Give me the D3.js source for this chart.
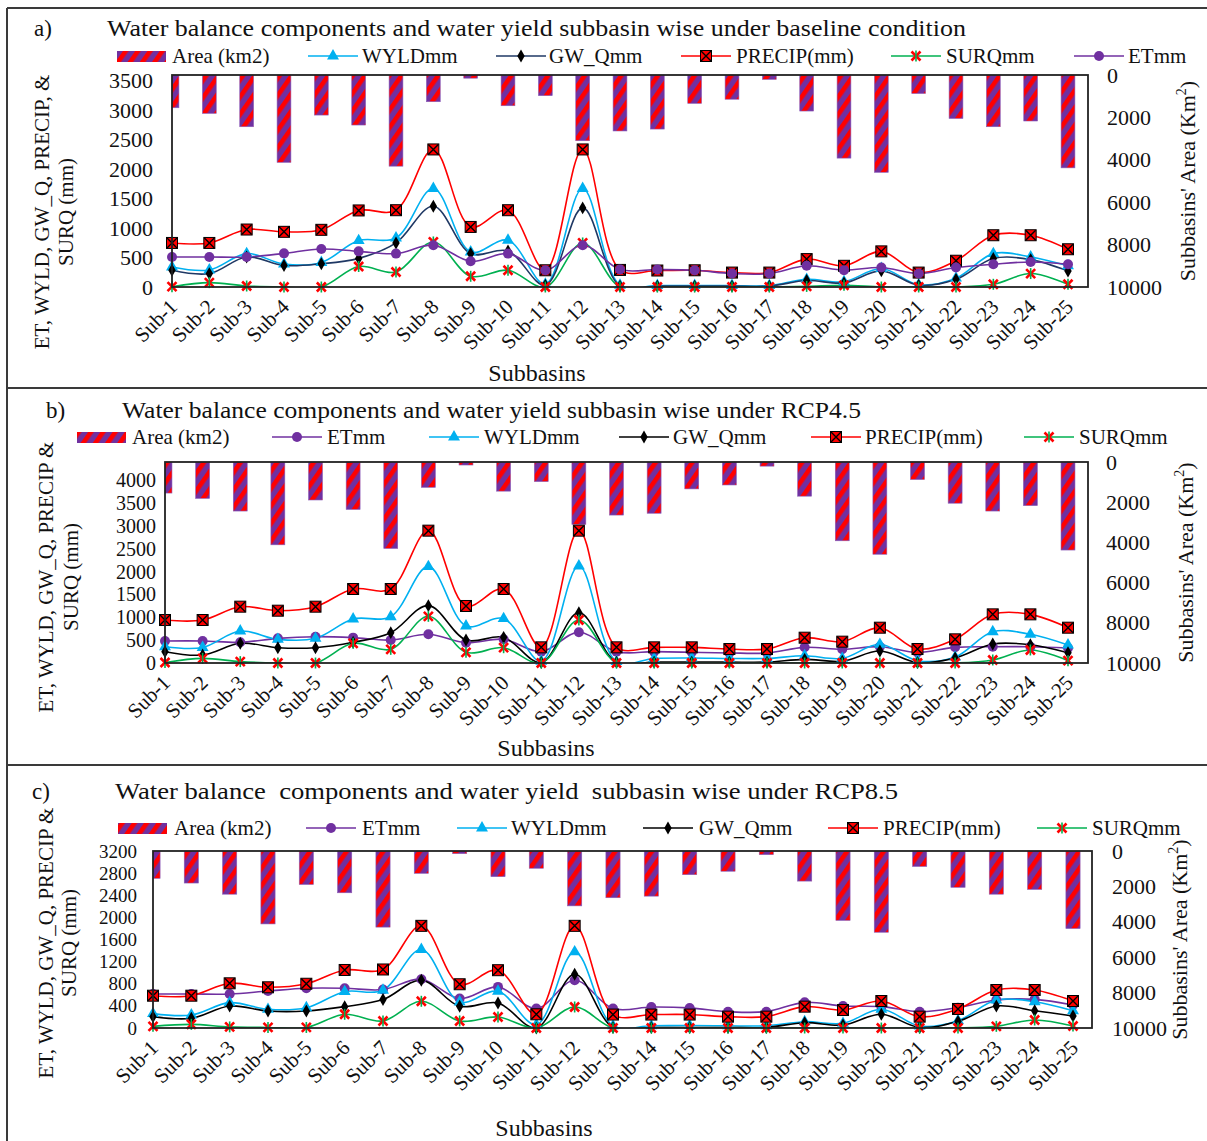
<!DOCTYPE html>
<html>
<head>
<meta charset="utf-8">
<script src="https://cdn.jsdelivr.net/npm/d3@7"></script>
<style>
  body { margin: 0; background: #fff; }
  svg { display: block; font-family: "Liberation Serif", "Times New Roman", serif; }
</style>
</head>
<body>
<svg id="chart" width="1207" height="1141"></svg>
<script>
// ---- data -------------------------------------------------------------
const subbasins = ["Sub-1","Sub-2","Sub-3","Sub-4","Sub-5","Sub-6","Sub-7","Sub-8","Sub-9","Sub-10",
  "Sub-11","Sub-12","Sub-13","Sub-14","Sub-15","Sub-16","Sub-17","Sub-18","Sub-19","Sub-20",
  "Sub-21","Sub-22","Sub-23","Sub-24","Sub-25"];

// subbasin areas (km2), plotted downward on the secondary axis
const areaKm2 = [1545, 1810, 2440, 4120, 1890, 2360, 4300, 1260, 150, 1450, 975, 3100, 2640,
  2550, 1338, 1143, 206, 1700, 3920, 4590, 873, 2050, 2440, 2170, 4380];

// baseline condition (mm)
const baseWYLD   = [340, 290, 567, 389, 417, 788, 833, 1673, 595, 794, 50, 1673, 30, 25, 25, 25, 25, 130, 90, 314, 40, 150, 567, 510, 360];
const baseGWQ    = [284, 228, 510, 366, 394, 486, 748, 1372, 567, 612, 30, 1343, 15, 15, 15, 15, 15, 110, 70, 274, 30, 130, 483, 465, 272];
const basePRECIP = [748, 748, 976, 937, 971, 1300, 1304, 2336, 1020, 1304, 284, 2336, 290, 280, 284, 245, 245, 474, 360, 605, 245, 446, 879, 879, 641];
const baseSURQ   = [5, 74, 17, 0, 0, 348, 255, 765, 182, 284, 0, 748, 0, 0, 0, 0, 0, 10, 30, 0, 0, 0, 46, 228, 46];
const baseET     = [510, 510, 510, 571, 646, 605, 567, 709, 437, 567, 284, 709, 296, 296, 284, 228, 228, 360, 286, 331, 228, 331, 386, 425, 386];

// RCP4.5 (mm)
const rcp45ET     = [482, 482, 453, 540, 576, 555, 503, 628, 445, 518, 248, 672, 248, 248, 234, 220, 220, 343, 300, 357, 230, 343, 357, 357, 330];
const rcp45WYLD   = [357, 340, 700, 518, 540, 963, 1014, 2109, 810, 971, 40, 2123, 30, 100, 110, 100, 100, 160, 102, 409, 51, 130, 685, 628, 394];
const rcp45GWQ    = [248, 175, 431, 335, 335, 453, 664, 1255, 503, 562, 10, 1102, 15, 20, 20, 20, 20, 80, 40, 263, 10, 110, 416, 400, 226];
const rcp45PRECIP = [941, 941, 1233, 1145, 1233, 1620, 1620, 2897, 1248, 1620, 343, 2897, 343, 343, 343, 306, 306, 554, 467, 773, 306, 518, 1065, 1065, 773];
const rcp45SURQ   = [10, 102, 30, 0, 0, 431, 299, 1022, 234, 335, 0, 941, 0, 0, 0, 0, 0, 0, 0, 0, 0, 0, 66, 285, 51];

// RCP8.5 (mm)
const rcp85ET     = [615, 615, 615, 669, 718, 718, 695, 882, 532, 743, 351, 864, 351, 380, 363, 295, 295, 464, 398, 386, 295, 368, 506, 518, 416];
const rcp85WYLD   = [260, 235, 458, 338, 367, 657, 683, 1420, 471, 665, 60, 1377, 40, 40, 45, 40, 40, 114, 84, 338, 36, 133, 506, 476, 313];
const rcp85GWQ    = [205, 175, 398, 307, 307, 386, 514, 864, 393, 453, 0, 973, 10, 10, 10, 10, 10, 96, 54, 248, 10, 120, 398, 313, 217];
const rcp85PRECIP = [584, 584, 808, 736, 800, 1049, 1058, 1847, 791, 1045, 248, 1847, 243, 243, 243, 205, 205, 386, 325, 488, 205, 344, 687, 687, 488];
const rcp85SURQ   = [30, 66, 20, 10, 10, 248, 127, 483, 127, 199, 0, 380, 0, 0, 0, 0, 0, 0, 0, 0, 0, 0, 30, 145, 36];

// axis ticks
const ticksBaseline = [0, 500, 1000, 1500, 2000, 2500, 3000, 3500];
const ticksRcp45    = [0, 500, 1000, 1500, 2000, 2500, 3000, 3500, 4000];
const ticksRcp85    = [0, 400, 800, 1200, 1600, 2000, 2400, 2800, 3200];
const ticksArea     = [0, 2000, 4000, 6000, 8000, 10000];

// ---- styles -----------------------------------------------------------
const seriesStyle = {
  WYLD:   { color: "#00B0F0", marker: "triangle", label: "WYLDmm" },
  GWQ:    { color: "#000000", marker: "diamond",  label: "GW_Qmm" },
  PRECIP: { color: "#FF0000", marker: "xsquare",  label: "PRECIP(mm)" },
  SURQ:   { color: "#00B050", marker: "star",     label: "SURQmm" },
  ET:     { color: "#7030A0", marker: "circle",   label: "ETmm" }
};

const panels = [
  {
    tag: "a)", tagX: 34, titleY: 28,
    title: "Water balance components and water yield subbasin wise under baseline condition",
    titleX: 107, titleW: 859,
    legendY: 56,
    legend: [["AREA", 117, 172], ["WYLD", 308, 362], ["GWQ", 496, 549], ["PRECIP", 681, 736], ["SURQ", 891, 946], ["ET", 1074, 1128]],
    left: 172, right: 1088, lastX: 1068, top: 75, bottom: 287,
    yMax: 3600, yTicks: ticksBaseline, tickFont: 22, labelRight: 153, rightLabelX: 1107, rightTitleX: 1187,
    yTitle: ["ET, WYLD, GW_Q, PRECIP, &", "SURQ (mm)"], yTitleX: [42, 66], yTitleY: 212,
    xTitleX: 537, xTitleY: 373,
    gwColor: "#1F3864",
    data: { WYLD: baseWYLD, GWQ: baseGWQ, PRECIP: basePRECIP, SURQ: baseSURQ, ET: baseET }
  },
  {
    tag: "b)", tagX: 46, titleY: 410,
    title: "Water balance components and water yield subbasin wise under RCP4.5",
    titleX: 122, titleW: 739,
    legendY: 437,
    legend: [["AREA", 77, 132], ["ET", 272, 327], ["WYLD", 429, 484], ["GWQ", 619, 673], ["PRECIP", 811, 865], ["SURQ", 1024, 1079]],
    left: 165, right: 1088, lastX: 1068, top: 462, bottom: 663,
    yMax: 4400, yTicks: ticksRcp45, tickFont: 20, labelRight: 156, rightLabelX: 1106, rightTitleX: 1185,
    yTitle: ["ET, WYLD, GW_Q, PRECIP &", "SURQ (mm)"], yTitleX: [46, 71], yTitleY: 577,
    xTitleX: 546, xTitleY: 748,
    gwColor: "#000000",
    data: { ET: rcp45ET, WYLD: rcp45WYLD, GWQ: rcp45GWQ, PRECIP: rcp45PRECIP, SURQ: rcp45SURQ }
  },
  {
    tag: "c)", tagX: 32, titleY: 791,
    title: "Water balance  components and water yield  subbasin wise under RCP8.5",
    titleX: 115, titleW: 783,
    legendY: 828,
    legend: [["AREA", 118, 174], ["ET", 306, 362], ["WYLD", 457, 511], ["GWQ", 643, 699], ["PRECIP", 828, 883], ["SURQ", 1037, 1092]],
    left: 153, right: 1092, lastX: 1073, top: 851, bottom: 1028,
    yMax: 3200, yTicks: ticksRcp85, tickFont: 19, labelRight: 137, rightLabelX: 1112, rightTitleX: 1179,
    yTitle: ["ET, WYLD, GW_Q, PRECIP &", "SURQ (mm)"], yTitleX: [46, 69], yTitleY: 943,
    xTitleX: 544, xTitleY: 1128,
    gwColor: "#000000",
    data: { ET: rcp85ET, WYLD: rcp85WYLD, GWQ: rcp85GWQ, PRECIP: rcp85PRECIP, SURQ: rcp85SURQ }
  }
];

// ---- drawing ----------------------------------------------------------
const svg = d3.select("#chart");
const defs = svg.append("defs");
const fmt = d3.format("d");

// red / purple diagonal hatching for the area bars
const pat = defs.append("pattern")
  .attr("id", "areaHatch")
  .attr("patternUnits", "userSpaceOnUse")
  .attr("width", 10).attr("height", 10)
  .attr("patternTransform", "rotate(35)");
pat.append("rect").attr("width", 10).attr("height", 10).attr("fill", "#7030A0");
pat.append("rect").attr("width", 4.6).attr("height", 10).attr("fill", "#FF0000");

// panel frames
svg.append("g").attr("stroke", "#3a3a3a").attr("stroke-width", 2).attr("fill", "none")
  .call(g => {
    g.append("line").attr("x1", 7).attr("x2", 1207).attr("y1", 8).attr("y2", 8);
    g.append("line").attr("x1", 7).attr("x2", 1207).attr("y1", 388).attr("y2", 388);
    g.append("line").attr("x1", 7).attr("x2", 1207).attr("y1", 765).attr("y2", 765);
    g.append("line").attr("x1", 7).attr("x2", 7).attr("y1", 8).attr("y2", 1141);
  });

function drawMarker(g, type, color, x, y) {
  const m = g.append("g").attr("transform", `translate(${x},${y})`);
  if (type === "triangle") {
    m.append("path").attr("d", d3.symbol(d3.symbolTriangle, 62)()).attr("fill", color);
  } else if (type === "diamond") {
    m.append("path").attr("d", d3.symbol(d3.symbolDiamond, 48)()).attr("fill", "#000");
  } else if (type === "circle") {
    m.append("circle").attr("r", 5).attr("fill", color);
  } else if (type === "xsquare") {
    m.append("rect").attr("x", -5.5).attr("y", -5.5).attr("width", 11).attr("height", 11)
      .attr("fill", "#FF0000").attr("stroke", "#000").attr("stroke-width", 1);
    m.append("path").attr("d", "M-5,-5L5,5M-5,5L5,-5").attr("stroke", "#000").attr("stroke-width", 1.4);
  } else if (type === "star") {
    m.append("path").attr("d", "M-4.5,-4.5L4.5,4.5M-4.5,4.5L4.5,-4.5")
      .attr("stroke", "#FF0000").attr("stroke-width", 2.6);
    m.append("path").attr("d", "M0,-5.5V5.5").attr("stroke", color).attr("stroke-width", 1.6);
  }
}

panels.forEach((p, pi) => {
  const g = svg.append("g");
  const step = (p.lastX - p.left) / (subbasins.length - 1);
  const x = d3.scalePoint().domain(subbasins).range([p.left, p.lastX]);
  const y = d3.scaleLinear().domain([0, p.yMax]).range([p.bottom, p.top]);
  const yArea = d3.scaleLinear().domain([0, 10000]).range([p.top, p.bottom]);

  // title
  g.append("text").attr("x", p.tagX).attr("y", p.titleY).attr("dy", "0.35em")
    .attr("font-size", 23).attr("fill", "#111").text(p.tag);
  g.append("text").attr("x", p.titleX).attr("y", p.titleY).attr("dy", "0.35em")
    .attr("font-size", 23).attr("fill", "#111")
    .attr("xml:space", "preserve").style("white-space", "pre")
    .attr("textLength", p.titleW).attr("lengthAdjust", "spacingAndGlyphs")
    .text(p.title);

  // legend
  const lg = g.append("g");
  p.legend.forEach(([key, lx, tx]) => {
    if (key === "AREA") {
      lg.append("rect").attr("x", lx).attr("y", p.legendY - 5).attr("width", 49).attr("height", 11)
        .attr("fill", "url(#areaHatch)");
      lg.append("text").attr("x", tx).attr("y", p.legendY).attr("dy", "0.35em")
        .attr("font-size", 21).attr("fill", "#111").text("Area (km2)");
    } else {
      const st = seriesStyle[key];
      const col = key === "GWQ" ? p.gwColor : st.color;
      lg.append("line").attr("x1", lx).attr("x2", lx + 50).attr("y1", p.legendY).attr("y2", p.legendY)
        .attr("stroke", col).attr("stroke-width", 1.6);
      drawMarker(lg, st.marker, col, lx + 25, p.legendY);
      lg.append("text").attr("x", tx).attr("y", p.legendY).attr("dy", "0.35em")
        .attr("font-size", 21).attr("fill", "#111").text(st.label);
    }
  });

  // clip region of the plot area
  const clipId = "plotClip" + pi;
  defs.append("clipPath").attr("id", clipId).append("rect")
    .attr("x", p.left).attr("y", p.top).attr("width", p.right - p.left).attr("height", p.bottom - p.top);
  const plot = g.append("g").attr("clip-path", `url(#${clipId})`);

  // area bars hanging from the top (secondary axis)
  const barW = step * 0.37;
  plot.append("g").selectAll("rect").data(areaKm2).join("rect")
    .attr("x", (d, i) => x(subbasins[i]) - barW / 2)
    .attr("y", yArea(0))
    .attr("width", barW)
    .attr("height", d => yArea(d) - yArea(0))
    .attr("fill", "url(#areaHatch)")
    .attr("stroke", "#8a5bb8").attr("stroke-width", 0.6);

  // smoothed series lines and markers
  const order = p.legend.map(l => l[0]).filter(k => k !== "AREA");
  const line = d3.line()
    .x((d, i) => x(subbasins[i]))
    .y(d => y(d))
    .curve(d3.curveCatmullRom.alpha(0.5));
  order.forEach(key => {
    const st = seriesStyle[key];
    const col = key === "GWQ" ? p.gwColor : st.color;
    const vals = p.data[key];
    plot.append("path").datum(vals).attr("d", line)
      .attr("fill", "none").attr("stroke", col).attr("stroke-width", 1.6);
    const mg = g.append("g");
    vals.forEach((v, i) => drawMarker(mg, st.marker, col, x(subbasins[i]), y(v)));
  });

  // plot frame
  g.append("rect").attr("x", p.left).attr("y", p.top)
    .attr("width", p.right - p.left).attr("height", p.bottom - p.top)
    .attr("fill", "none").attr("stroke", "#222").attr("stroke-width", 1.8);

  // left axis
  const yAxis = d3.axisLeft(y).tickValues(p.yTicks).tickFormat(fmt).tickSize(0).tickPadding(0);
  g.append("g").attr("transform", `translate(${p.labelRight},0)`).call(yAxis)
    .call(a => a.select(".domain").remove())
    .call(a => a.selectAll("text").attr("font-size", p.tickFont).attr("fill", "#111")
      .attr("font-family", "Liberation Serif, serif"));

  // right axis (area, inverted)
  const rAxis = d3.axisRight(yArea).tickValues(ticksArea).tickFormat(fmt).tickSize(0).tickPadding(0);
  g.append("g").attr("transform", `translate(${p.rightLabelX},0)`).call(rAxis)
    .call(a => a.select(".domain").remove())
    .call(a => a.selectAll("text").attr("font-size", 22).attr("fill", "#111")
      .attr("font-family", "Liberation Serif, serif"));

  // category labels
  const xAxis = d3.axisBottom(x).tickSize(0).tickPadding(0);
  g.append("g").attr("transform", `translate(0,${p.bottom})`).call(xAxis)
    .call(a => a.select(".domain").remove())
    .call(a => a.selectAll("text")
      .attr("font-size", 21).attr("fill", "#111").attr("font-family", "Liberation Serif, serif")
      .attr("text-anchor", "end").attr("dy", null).attr("y", 0)
      .attr("transform", "translate(6,21) rotate(-45)"));

  // axis titles
  p.yTitle.forEach((t, k) => {
    g.append("text")
      .attr("transform", `translate(${p.yTitleX[k]},${p.yTitleY}) rotate(-90)`)
      .attr("text-anchor", "middle").attr("dy", "0.35em")
      .attr("font-size", 21).attr("fill", "#111").text(t);
  });
  const rt = g.append("text")
    .attr("transform", `translate(${p.rightTitleX},${(p.top + p.bottom) / 2}) rotate(-90)`)
    .attr("text-anchor", "middle").attr("dy", "0.35em")
    .attr("font-size", 22).attr("fill", "#111");
  rt.append("tspan").text("Subbasins' Area (Km");
  rt.append("tspan").attr("font-size", 14).attr("dy", "-0.6em").text("2");
  rt.append("tspan").attr("dy", "0.4em").text(")");

  g.append("text").attr("x", p.xTitleX).attr("y", p.xTitleY).attr("dy", "0.35em")
    .attr("text-anchor", "middle").attr("font-size", 24).attr("fill", "#111").text("Subbasins");
});
</script>
</body>
</html>
